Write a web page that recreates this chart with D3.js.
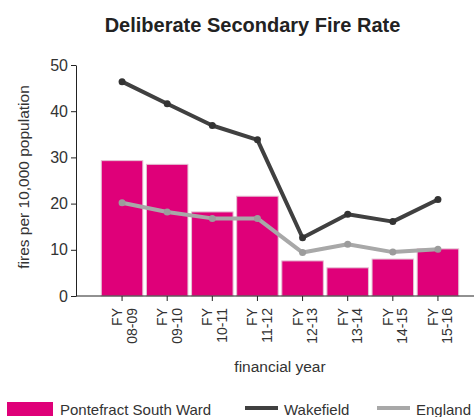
<!DOCTYPE html>
<html>
<head>
<meta charset="utf-8">
<script src="https://cdn.jsdelivr.net/npm/d3@7"></script>
<style>
  body { margin: 0; background: #fff; }
  svg { display: block; font-family: "Liberation Sans", Arial, sans-serif; }
</style>
</head>
<body>
<svg id="chart" width="474" height="417"></svg>
<script>
// chart data
const years = ['08-09', '09-10', '10-11', '11-12', '12-13', '13-14', '14-15', '15-16'];
const ward = [29.3, 28.5, 18.2, 21.6, 7.6, 6.1, 8.0, 10.2];
const wakefield = [46.4, 41.6, 36.9, 33.8, 12.6, 17.7, 16.1, 20.9];
const england = [20.2, 18.2, 16.8, 16.8, 9.4, 11.2, 9.5, 10.1];
const yTicks = [0, 10, 20, 30, 40, 50];

const pink = '#df0079';
const dark = '#404040';
const grey = '#a8a8a8';

const svg = d3.select('#chart');

// scales
const xScale = d3.scaleBand()
    .domain(years)
    .range([99.5, 460.5])
    .paddingInner(0.08)
    .paddingOuter(0.04);

const yScale = d3.scaleLinear()
    .domain([0, 50])
    .range([296, 65]);

const axisX = 76;
const cx = (d) => xScale(d) + xScale.bandwidth() / 2;

// title
svg.append('text')
    .attr('x', 252.5)
    .attr('y', 32)
    .attr('text-anchor', 'middle')
    .style('font-size', '20px')
    .style('font-weight', 'bold')
    .attr('fill', '#222')
    .text('Deliberate Secondary Fire Rate');

// bars
svg.append('g').selectAll('rect')
    .data(years)
    .enter().append('rect')
    .attr('x', (d) => xScale(d))
    .attr('width', xScale.bandwidth())
    .attr('y', (d, i) => yScale(ward[i]))
    .attr('height', (d, i) => yScale(0) - yScale(ward[i]))
    .attr('fill', pink)
    .attr('stroke', '#e3c2d3')
    .attr('stroke-width', 1);

// lines
function drawSeries(values, colour, dotColour) {
    const line = d3.line()
        .x((d, i) => cx(years[i]))
        .y((d) => yScale(d));
    svg.append('path')
        .datum(values)
        .attr('d', line)
        .attr('fill', 'none')
        .attr('stroke', colour)
        .attr('stroke-width', 4)
        .attr('stroke-linejoin', 'round');
    svg.append('g').selectAll('circle')
        .data(values)
        .enter().append('circle')
        .attr('cx', (d, i) => cx(years[i]))
        .attr('cy', (d) => yScale(d))
        .attr('r', 3.5)
        .attr('fill', dotColour);
}
drawSeries(england, grey, '#9c9c9c');
drawSeries(wakefield, dark, '#333');

// y axis
const yAxis = d3.axisLeft(yScale)
    .tickValues(yTicks)
    .tickSize(5)
    .tickSizeOuter(0)
    .tickPadding(3);

const gy = svg.append('g')
    .attr('transform', 'translate(' + axisX + ',0)')
    .call(yAxis);
gy.select('.domain').attr('stroke', '#222');
gy.selectAll('line').attr('stroke', '#222');
gy.selectAll('text')
    .style('font-size', '16px')
    .style('font-family', '"Liberation Sans", Arial, sans-serif')
    .attr('fill', '#333');

// x axis: line runs to the right edge
svg.append('line')
    .attr('x1', axisX).attr('x2', 474)
    .attr('y1', yScale(0)).attr('y2', yScale(0))
    .attr('stroke', '#222');

const xTicks = svg.append('g').selectAll('g')
    .data(years)
    .enter().append('g')
    .attr('transform', (d) => 'translate(' + cx(d) + ',' + yScale(0) + ')');

xTicks.append('line')
    .attr('y1', 0).attr('y2', 5)
    .attr('stroke', '#222');

const tickText = xTicks.append('text')
    .attr('transform', 'translate(0,12) rotate(-90)')
    .attr('text-anchor', 'end')
    .style('font-size', '14px')
    .attr('fill', '#333');
tickText.append('tspan').attr('x', 0).attr('y', 0).text('FY');
tickText.append('tspan').attr('x', 0).attr('y', 14.5).text((d) => d);

// axis titles
svg.append('text')
    .attr('transform', 'translate(29,177) rotate(-90)')
    .attr('text-anchor', 'middle')
    .style('font-size', '15.5px')
    .attr('fill', '#333')
    .text('fires per 10,000 population');

svg.append('text')
    .attr('x', 280)
    .attr('y', 372)
    .attr('text-anchor', 'middle')
    .style('font-size', '15.5px')
    .attr('fill', '#333')
    .text('financial year');

// legend
const legend = svg.append('g');
legend.append('rect')
    .attr('x', 7).attr('y', 402)
    .attr('width', 46).attr('height', 14)
    .attr('fill', pink);
legend.append('text')
    .attr('x', 60).attr('y', 415)
    .style('font-size', '15px')
    .attr('fill', '#333')
    .text('Pontefract South Ward');

legend.append('line')
    .attr('x1', 245).attr('x2', 278)
    .attr('y1', 408).attr('y2', 408)
    .attr('stroke', dark).attr('stroke-width', 4);
legend.append('text')
    .attr('x', 284).attr('y', 415)
    .style('font-size', '15px')
    .attr('fill', '#333')
    .text('Wakefield');

legend.append('line')
    .attr('x1', 377).attr('x2', 410)
    .attr('y1', 408).attr('y2', 408)
    .attr('stroke', grey).attr('stroke-width', 4);
legend.append('text')
    .attr('x', 416).attr('y', 415)
    .style('font-size', '15px')
    .attr('fill', '#333')
    .text('England');
</script>
</body>
</html>
